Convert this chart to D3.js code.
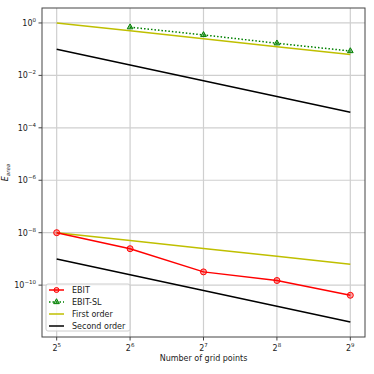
<!DOCTYPE html>
<html>
<head>
<meta charset="utf-8">
<script src="https://cdn.jsdelivr.net/npm/d3@7"></script>
<style>
  body { margin: 0; background: #fff; }
  svg { font-family: "DejaVu Sans", sans-serif; }
</style>
</head>
<body>
<svg width="374" height="374"></svg>
<script>
// grid sizes (powers of two)
const gridPoints = [32, 64, 128, 256, 512];
const xTickExp = [5, 6, 7, 8, 9];
const yTickExp = [0, -2, -4, -6, -8, -10];

// error values
const ebit = [1.0e-8, 2.45e-9, 3.2e-10, 1.5e-10, 4.1e-11];
const ebitSLPoints = [64, 128, 256, 512];
const ebitSL = [0.69, 0.35, 0.168, 0.085];
const firstOrderTop = [1, 0.5, 0.25, 0.125, 0.0625];
const secondOrderTop = [0.1, 0.025, 0.00625, 0.0015625, 0.000390625];
const firstOrderLow = [1e-8, 5e-9, 2.5e-9, 1.25e-9, 6.25e-10];
const secondOrderLow = [1e-9, 2.5e-10, 6.25e-11, 1.5625e-11, 3.90625e-12];

const margin = {top: 8, right: 9, bottom: 37, left: 42};
const width = 374 - margin.left - margin.right;
const height = 374 - margin.top - margin.bottom;

const svg = d3.select('svg');
const g = svg.append('g').attr('transform', `translate(${margin.left},${margin.top})`);

// matplotlib style 5% margins in log space
const lx = [5, 9], pad = (lx[1] - lx[0]) * 0.05;
const x = d3.scaleLog().base(2)
    .domain([Math.pow(2, lx[0] - pad), Math.pow(2, lx[1] + pad)])
    .range([0, width]);

const allY = [].concat(ebit, ebitSL, firstOrderTop, secondOrderTop, firstOrderLow, secondOrderLow);
const ly = [Math.log10(d3.min(allY)), Math.log10(d3.max(allY))];
const ypad = (ly[1] - ly[0]) * 0.05;
const y = d3.scaleLog()
    .domain([Math.pow(10, ly[0] - ypad), Math.pow(10, ly[1] + ypad)])
    .range([height, 0]);

// grid
g.append('g').selectAll('line').data(xTickExp).enter().append('line')
    .attr('x1', d => x(Math.pow(2, d))).attr('x2', d => x(Math.pow(2, d)))
    .attr('y1', 0).attr('y2', height)
    .style('stroke', '#cfcfcf').style('stroke-width', 1.2);
g.append('g').selectAll('line').data(yTickExp).enter().append('line')
    .attr('y1', d => y(Math.pow(10, d))).attr('y2', d => y(Math.pow(10, d)))
    .attr('x1', 0).attr('x2', width)
    .style('stroke', '#cfcfcf').style('stroke-width', 1.2);

const line = d3.line().x(d => x(d[0])).y(d => y(d[1]));

function drawLine(xs, ys, color, dash) {
  g.append('path')
    .datum(xs.map((v, i) => [v, ys[i]]))
    .attr('d', line)
    .style('fill', 'none')
    .style('stroke', color)
    .style('stroke-width', 1.5)
    .style('stroke-dasharray', dash || null);
}

drawLine(gridPoints, firstOrderTop, '#bfbf00');
drawLine(gridPoints, secondOrderTop, '#000');
drawLine(gridPoints, firstOrderLow, '#bfbf00');
drawLine(gridPoints, secondOrderLow, '#000');
drawLine(gridPoints, ebit, '#ff0000');
drawLine(ebitSLPoints, ebitSL, '#008000', '1.5,2');

// markers
g.append('g').selectAll('circle').data(gridPoints).enter().append('circle')
    .attr('cx', d => x(d)).attr('cy', (d, i) => y(ebit[i]))
    .attr('r', 3)
    .style('fill', 'rgba(255,0,0,0.35)')
    .style('stroke', '#ff0000').style('stroke-width', 1);

const tri = d3.symbol().type(d3.symbolTriangle).size(14);
g.append('g').selectAll('path').data(ebitSLPoints).enter().append('path')
    .attr('d', tri)
    .attr('transform', (d, i) => `translate(${x(d)},${y(ebitSL[i])})`)
    .style('fill', 'rgba(0,128,0,0.45)')
    .style('stroke', '#008000').style('stroke-width', 1);

// frame
g.append('rect').attr('width', width).attr('height', height)
    .style('fill', 'none').style('stroke', '#444').style('stroke-width', 1);

// ticks
const fs = 8;
const xt = g.append('g').selectAll('g').data(xTickExp).enter().append('g')
    .attr('transform', d => `translate(${x(Math.pow(2, d))},${height})`);
xt.append('line').attr('y2', 3.5).style('stroke', '#444');
const xtxt = xt.append('text').attr('y', 14).attr('text-anchor', 'middle')
    .style('font-size', fs + 'px').style('fill', '#222');
xtxt.append('tspan').text('2');
xtxt.append('tspan').attr('dy', -4).style('font-size', '5.5px').text(d => d);

const yt = g.append('g').selectAll('g').data(yTickExp).enter().append('g')
    .attr('transform', d => `translate(0,${y(Math.pow(10, d))})`);
yt.append('line').attr('x2', -3.5).style('stroke', '#444');
const ytxt = yt.append('text').attr('x', -6).attr('y', 3).attr('text-anchor', 'end')
    .style('font-size', fs + 'px').style('fill', '#222');
ytxt.append('tspan').text('10');
ytxt.append('tspan').attr('dy', -4).style('font-size', '5.5px').text(d => d === 0 ? '0' : '\u2212' + (-d));

// axis labels
svg.append('text')
    .attr('x', margin.left + width / 2).attr('y', 361)
    .attr('text-anchor', 'middle')
    .style('font-size', fs + 'px').style('fill', '#222')
    .text('Number of grid points');

const ylab = svg.append('text')
    .attr('transform', `translate(8,${margin.top + height / 2}) rotate(-90)`)
    .attr('text-anchor', 'middle')
    .style('font-size', fs + 'px').style('fill', '#222');
ylab.append('tspan').style('font-style', 'italic').text('E');
ylab.append('tspan').attr('dy', 2).style('font-size', '5.5px').style('font-style', 'italic').text('area');

// legend
const legendItems = [
  {label: 'EBIT', color: '#ff0000', marker: 'circle'},
  {label: 'EBIT-SL', color: '#008000', marker: 'triangle', dash: '1.5,2'},
  {label: 'First order', color: '#bfbf00'},
  {label: 'Second order', color: '#000'}
];
const lg = g.append('g').attr('transform', `translate(4,${height - 53})`);
lg.append('rect').attr('width', 84).attr('height', 47).attr('rx', 2)
    .style('fill', 'rgba(255,255,255,0.8)').style('stroke', '#ccc').style('stroke-width', 1);
const li = lg.selectAll('.legend').data(legendItems).enter().append('g')
    .attr('class', 'legend')
    .attr('transform', (d, i) => `translate(3,${6 + i * 12})`);
li.append('line').attr('x1', 0).attr('x2', 15)
    .style('stroke', d => d.color).style('stroke-width', 1.5)
    .style('stroke-dasharray', d => d.dash || null);
li.filter(d => d.marker === 'circle').append('circle')
    .attr('cx', 7.5).attr('r', 2.5)
    .style('fill', 'rgba(255,0,0,0.35)').style('stroke', '#ff0000');
li.filter(d => d.marker === 'triangle').append('path')
    .attr('d', tri).attr('transform', 'translate(7.5,0)')
    .style('fill', 'rgba(0,128,0,0.45)').style('stroke', '#008000');
li.append('text').attr('x', 23).attr('y', 3)
    .style('font-size', fs + 'px').style('fill', '#222')
    .text(d => d.label);
</script>
</body>
</html>
